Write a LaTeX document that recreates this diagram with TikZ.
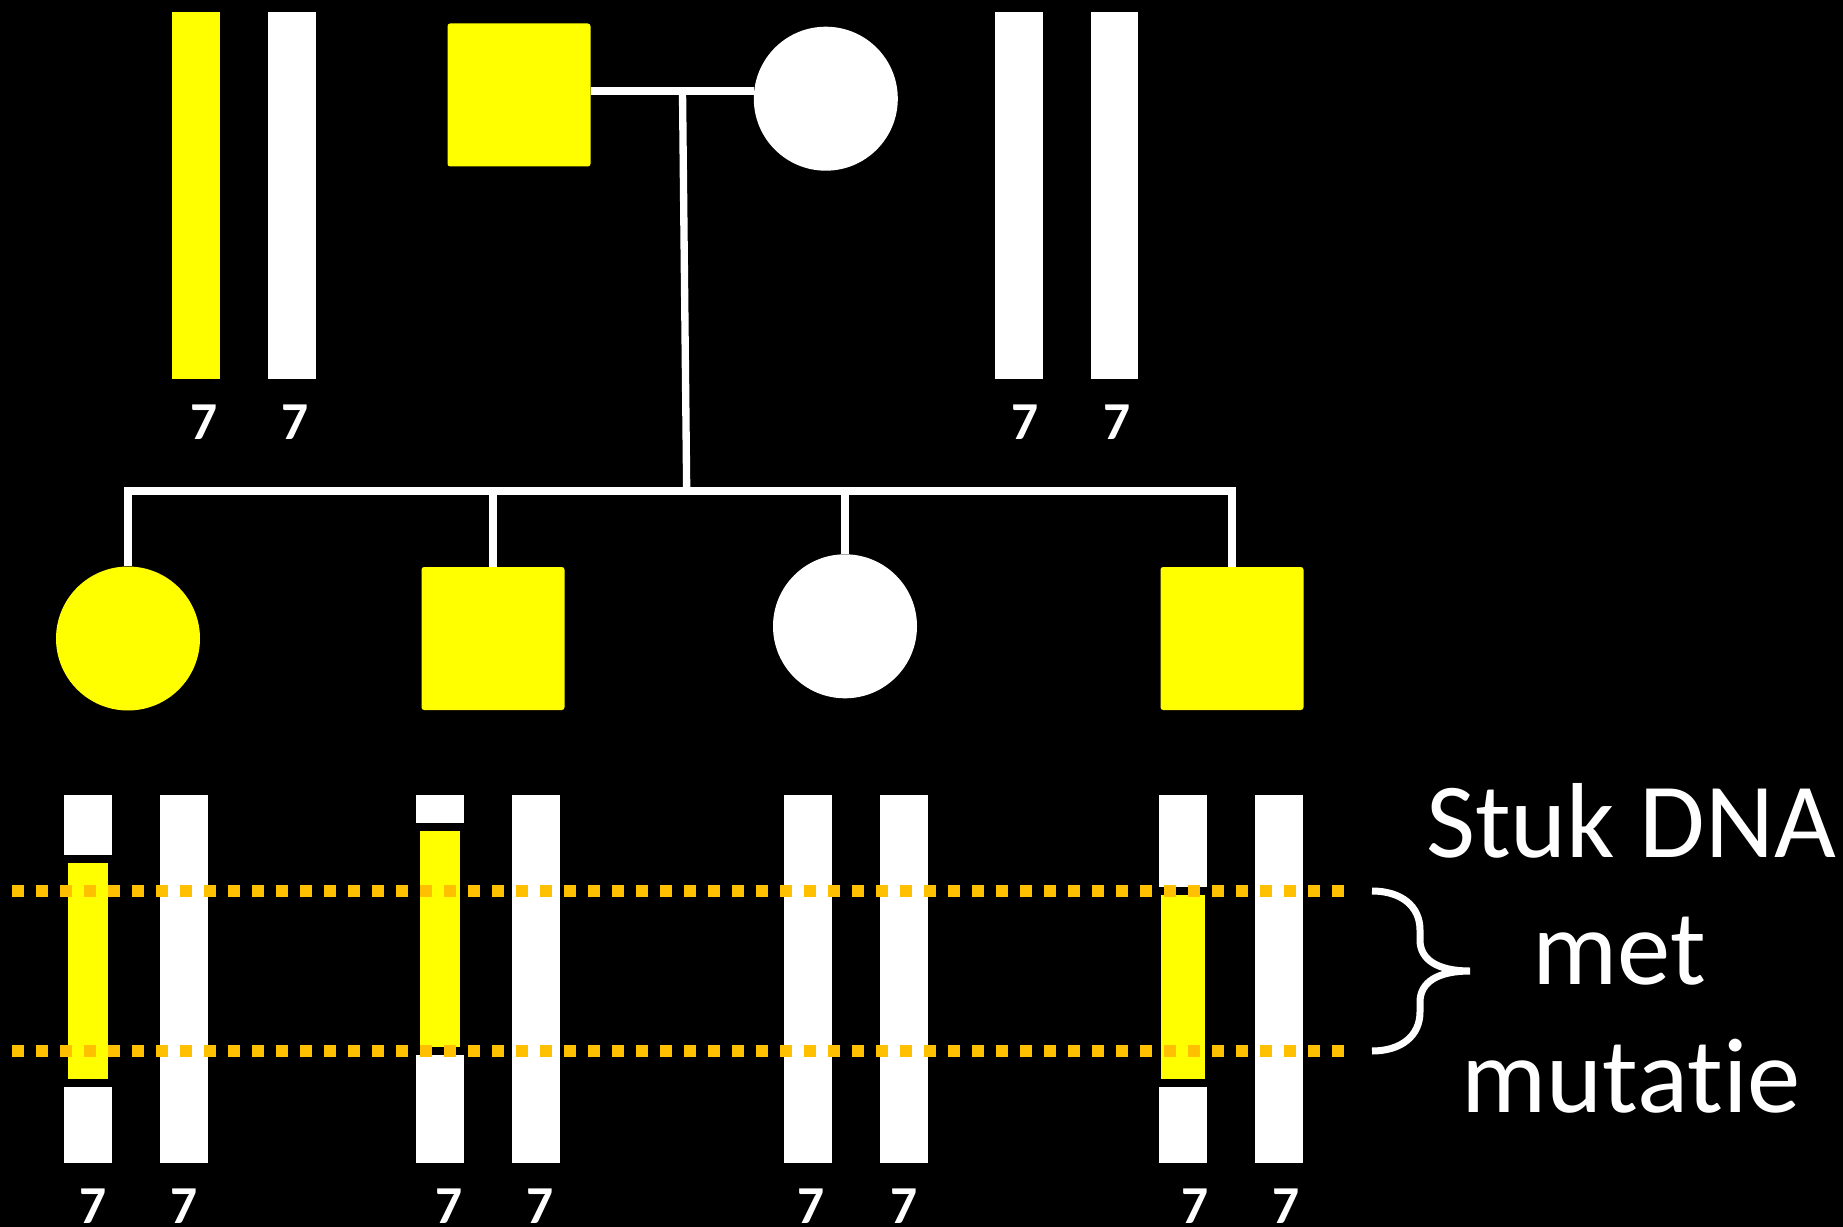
\documentclass[tikz,border=0pt]{standalone}
\usepackage{fontspec}
\setmainfont{Carlito}[Ligatures=NoCommon]
\usepackage{tikz}

\definecolor{mutyellow}{RGB}{255,255,0}
\definecolor{dotorange}{RGB}{255,192,0}

\begin{document}
\begin{tikzpicture}[x=0.75pt,y=0.75pt,yscale=-1,xscale=1,
  chrom/.style={fill=white,draw=none},
  mutated/.style={fill=mutyellow,draw=none},
  pedline/.style={draw=white,line width=5.5pt,line join=miter},
  male/.style={rectangle,rounded corners=2pt,minimum size=107.25pt,inner sep=0pt,draw=none},
  female/.style={circle,minimum size=108pt,inner sep=0pt,draw=none},
  chromlabel/.style={font=\fontsize{40}{48}\selectfont\bfseries,text=white,anchor=base,inner sep=0pt},
  marker/.style={draw=dotorange,line width=9pt,dash pattern=on 9pt off 9pt},
  bracket/.style={draw=white,line width=5.25pt},
  note/.style={font=\fontsize{80}{96}\selectfont,text=white,anchor=base,inner sep=0pt}]
%set diagram to the full slide, black background
\fill[black] (0,0) rectangle (1843,1227);

%Shape: Rectangle -- chromosomes of the father
\fill[mutated] (172,12) rectangle (220,379);
\fill[chrom] (268,12) rectangle (316,379);
%Shape: Rectangle -- chromosomes of the mother
\fill[chrom] (995,12) rectangle (1043,379);
\fill[chrom] (1091,12) rectangle (1138,379);

% Text Node
\node[chromlabel] (lblFa) at (204,439) {7};
\node[chromlabel] (lblFb) at (295,439) {7};
\node[chromlabel] (lblMa) at (1025,439) {7};
\node[chromlabel] (lblMb) at (1117,439) {7};

%Shape: parents
\node[male,fill=mutyellow] (father) at (519,95) {};
\node[female,fill=white] (mother) at (825.8,98.7) {};
%Shape: children
\node[female,fill=mutyellow] (kid1) at (128,638.5) {};
\node[male,fill=mutyellow] (kid2) at (493,638.5) {};
\node[female,fill=white] (kid3) at (845,626.3) {};
\node[male,fill=mutyellow] (kid4) at (1232,638.5) {};

%Straight Lines
\coordinate (union) at (682.5,91);
\coordinate (sibs) at (686.7,491);
\draw[pedline] (father.east |- union) -- (mother.west |- union);
\draw[pedline] (union) -- (sibs);
\draw[pedline] (kid1.north) -- (kid1.north |- sibs) -- (kid4.north |- sibs) -- (kid4.north);
\draw[pedline] (kid2.north |- sibs) -- (kid2.north);
\draw[pedline] (kid3.north |- sibs) -- (kid3.north);

%Shape: Rectangle -- chromosomes of child 1
\fill[chrom] (64,795) rectangle (112,855);
\fill[mutated] (68,863) rectangle (108,1079);
\fill[chrom] (64,1087) rectangle (112,1163);
\fill[chrom] (160,795) rectangle (208,1163);
%Shape: Rectangle -- chromosomes of child 2
\fill[chrom] (416,795) rectangle (464,823);
\fill[mutated] (420,831) rectangle (460,1047);
\fill[chrom] (416,1055) rectangle (464,1163);
\fill[chrom] (512,795) rectangle (560,1163);
%Shape: Rectangle -- chromosomes of child 3
\fill[chrom] (784,795) rectangle (832,1163);
\fill[chrom] (880,795) rectangle (928,1163);
%Shape: Rectangle -- chromosomes of child 4
\fill[chrom] (1159,795) rectangle (1207,887);
\fill[mutated] (1161,895) rectangle (1205,1079);
\fill[chrom] (1159,1087) rectangle (1207,1163);
\fill[chrom] (1255,795) rectangle (1303,1163);

% Text Node
\node[chromlabel] (lbl1a) at (93,1223) {7};
\node[chromlabel] (lbl1b) at (184,1223) {7};
\node[chromlabel] (lbl2a) at (449,1223) {7};
\node[chromlabel] (lbl2b) at (540,1223) {7};
\node[chromlabel] (lbl3a) at (811,1223) {7};
\node[chromlabel] (lbl3b) at (904,1223) {7};
\node[chromlabel] (lbl4a) at (1195,1223) {7};
\node[chromlabel] (lbl4b) at (1286,1223) {7};

%Straight Lines -- borders of the mutated piece
\coordinate (mkTopL) at (12,891);
\coordinate (mkTopR) at (1344,891);
\coordinate (mkBotL) at (12,1051);
\coordinate (mkBotR) at (1344,1051);
\draw[marker] (mkTopL) -- (mkTopR);
\draw[marker] (mkBotL) -- (mkBotR);

%Shape: Brace
\draw[bracket] (1372,891) .. controls (1401,891) and (1420,906) .. (1420,930) -- (1420,940) .. controls (1420,960) and (1438,971) .. (1470,971) .. controls (1438,971) and (1420,982) .. (1420,1002) -- (1420,1012) .. controls (1420,1036) and (1401,1051) .. (1372,1051);

% Text Node
\node[note] (noteA) at (1631,857) {Stuk DNA};
\node[note] (noteB) at (1631,984) {met\hspace*{0.22em}};
\node[note] (noteC) at (1631,1112) {mutatie};

\end{tikzpicture}
\end{document}
